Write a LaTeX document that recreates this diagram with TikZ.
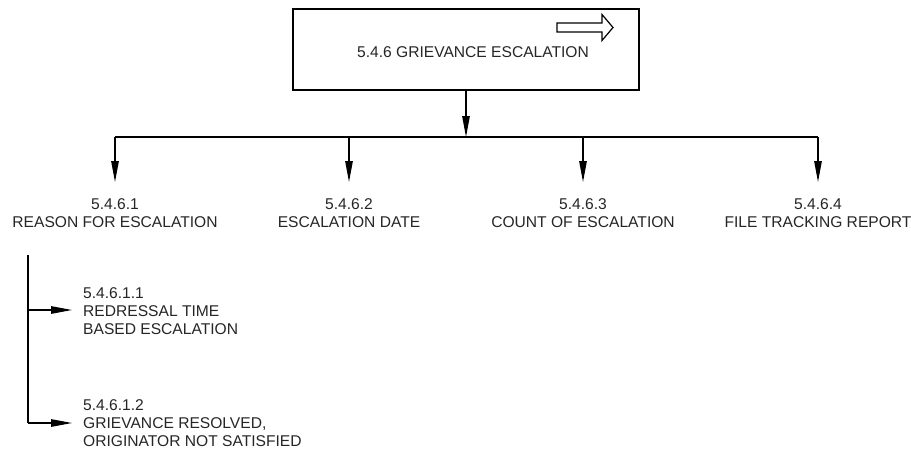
\documentclass[tikz,border=0pt]{standalone}
\usepackage{fontspec}
\setmainfont{Liberation Sans}
\usetikzlibrary{arrows.meta}
\tikzset{
  lbl/.style={font=\fontsize{15.6}{18.4}\selectfont, text=black!85},
  conn/.style={line width=1.2pt},
  arr/.style={conn, -{Triangle[length=21pt,width=7.5pt]}},
  toplbl/.style={lbl, align=center, anchor=north, inner xsep=0pt, inner ysep=16pt},
  sublbl/.style={lbl, align=left, anchor=north west, inner sep=0pt},
}
\begin{document}
\begin{tikzpicture}[x=1pt,y=-1pt]
\useasboundingbox (0,0) rectangle (911,450);
\fill[white] (0,0) rectangle (911,450);

% root box with its title and the hollow direction arrow
\node[draw, line width=1.4pt, minimum width=346pt, minimum height=81pt, inner sep=0pt] (root) at (466,49.5) {};
\node[lbl, inner sep=0pt] (roottxt) at (473,52) {5.4.6 GRIEVANCE ESCALATION};
\draw[line width=1.2pt, line join=miter]
  (557,23) -- (602,23) -- (602,14.5) -- (613,27.5) -- (602,40.5) -- (602,32) -- (557,32) -- cycle;

% distribution bus
\coordinate (bus) at (466,137);
\coordinate (busL) at (115,137);
\coordinate (busR) at (818,137);
\draw[arr] (root.south) -- (bus);
\draw[conn] (busL) -- (busR);

% first-level items
\node[toplbl] (c1) at (115,182) {5.4.6.1\\REASON FOR ESCALATION};
\node[toplbl] (c2) at (349,182) {5.4.6.2\\ESCALATION DATE};
\node[toplbl] (c3) at (583,182) {5.4.6.3\\COUNT OF ESCALATION};
\node[toplbl] (c4) at (818,182) {5.4.6.4\\FILE TRACKING REPORT};
\foreach \n in {c1,c2,c3,c4}
  \draw[arr] (\n.north |- bus) -- (\n.north);

% second-level items under 5.4.6.1
\coordinate (spineTop) at (28,255);
\coordinate (spineA) at (28,310);
\coordinate (spineB) at (28,423);
\draw[conn] (spineTop) -- (spineB);
\node[sublbl] (s1) at (83,287) {5.4.6.1.1\\REDRESSAL TIME\\BASED ESCALATION};
\node[sublbl] (s2) at (83,399) {5.4.6.1.2\\GRIEVANCE RESOLVED,\\ORIGINATOR NOT SATISFIED};
\coordinate (s1in) at (72,310);
\coordinate (s2in) at (72,423);
\draw[arr] (spineA) -- (s1in);
\draw[arr] (spineB) -- (s2in);
\end{tikzpicture}
\end{document}
